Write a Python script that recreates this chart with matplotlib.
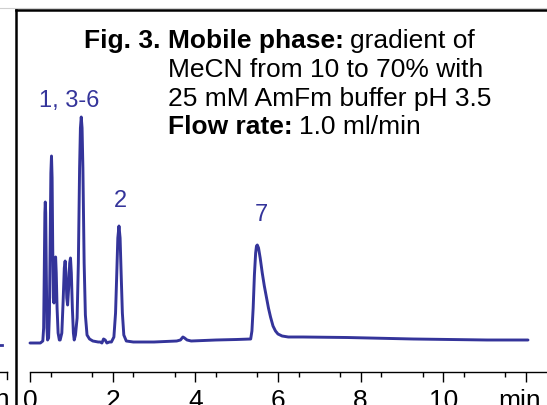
import matplotlib
matplotlib.use("Agg")
import matplotlib.pyplot as plt
import matplotlib.transforms as mtransforms
from matplotlib.lines import Line2D

plt.rcParams['font.family'] = ['Liberation Sans', 'DejaVu Sans']

# ---- data ----
time_min = [0.00, 0.25, 0.31, 0.33, 0.345, 0.36, 0.37, 0.38, 0.395, 0.41, 0.425,
            0.45, 0.47, 0.49, 0.505, 0.52, 0.535, 0.55, 0.565, 0.58,
            0.595, 0.61, 0.62, 0.635, 0.655, 0.68, 0.71, 0.73,
            0.77, 0.80, 0.83, 0.85, 0.87, 0.89, 0.91,
            0.935, 0.96, 0.98, 1.00, 1.025, 1.05, 1.07,
            1.10, 1.14, 1.17, 1.20, 1.22, 1.24, 1.26, 1.28, 1.31, 1.34, 1.38, 1.44, 1.52,
            1.65, 1.70, 1.74, 1.78, 1.82, 1.86, 1.92,
            1.97, 2.03, 2.07, 2.10, 2.125, 2.153, 2.18, 2.205, 2.235, 2.27, 2.33, 2.50,
            3.00, 3.55, 3.64, 3.70, 3.74, 3.80, 3.90,
            4.50, 5.00, 5.34, 5.37, 5.40, 5.43, 5.46, 5.48, 5.50, 5.53, 5.57, 5.62,
            5.67, 5.72, 5.77, 5.82, 5.88, 5.94, 6.00, 6.10, 6.25,
            6.60, 7.67, 9.27, 11.06, 12.05]
signal = [0, 0, 2, 15, 70, 130, 141, 130, 70, 15, 3,
          5, 30, 110, 170, 187, 165, 95, 45, 40,
          65, 84, 86, 70, 35, 10, 3, 3,
          10, 40, 75, 82, 70, 45, 38,
          55, 80, 85, 70, 35, 10, 3,
          8, 25, 80, 175, 215, 226, 215, 175, 80, 28, 8, 4, 2,
          1, 1, 0, 4, 3, 0, 1,
          1, 6, 30, 70, 105, 117, 105, 70, 30, 8, 2, 1,
          1, 2, 3, 6, 5, 3, 2,
          3, 3.5, 4, 12, 35, 68, 90, 97, 98, 95, 85, 70,
          57, 46, 35, 26, 17, 12, 9, 7, 6,
          6, 5.5, 4, 3, 3]

peak_labels = ["1, 3-6", "2", "7"]
peak_label_t = [0.95, 2.2, 5.6]
peak_label_y = [236, 136, 122]

tick_vals = [0, 2, 4, 6, 8, 10, 12]
tick_labels = ["0", "2", "4", "6", "8", "10", "min"]

caption_lines = [
    ("Mobile phase:", "gradient of"),
    ("", "MeCN from 10 to 70% with"),
    ("", "25 mM AmFm buffer pH 3.5"),
    ("Flow rate:", "1.0 ml/min"),
]
fig_label = "Fig. 3."

W, H = 547, 405
BLUE = '#34349a'
FS = 19

fig = plt.figure(figsize=(W / 100, H / 100), dpi=100)

# main axes (pixel layout: x-axis at y=372, t=0 at x=30)
ax = fig.add_axes([30 / W, (H - 372) / H, (W - 30) / W, (372 - 10) / H])
ax.plot(time_min, signal, color=BLUE, lw=2.1, solid_joinstyle='round',
        solid_capstyle='round', clip_on=False)
ax.set_xlim(0, 12.51)
ax.set_ylim(-29, 333)
for s in ['top', 'right', 'left']:
    ax.spines[s].set_visible(False)
ax.spines['bottom'].set_linewidth(1.0)
ax.set_yticks([])
ax.set_xticks(tick_vals)
ax.set_xticklabels(tick_labels)
ax.set_xticks([v + 0.5 for v in range(0, 12)], minor=True)
ax.tick_params(axis='x', which='major', direction='out', length=7.5, width=1.0,
               pad=5, labelsize=FS)
ax.tick_params(axis='x', which='minor', direction='out', length=3.8, width=1.0)
ax.patch.set_visible(False)
# shift the "min" label slightly to the left as in the reference
lab = ax.get_xticklabels()[-1]
lab.set_transform(lab.get_transform() +
                  mtransforms.ScaledTranslation(-6 / 100, 0, fig.dpi_scale_trans))

# peak labels
for lab_txt, t, y in zip(peak_labels, peak_label_t, peak_label_y):
    ax.text(t, y, lab_txt, color=BLUE, fontsize=17, ha='center', va='baseline')

# overlay axes in pixel coordinates for frame & captions
ov = fig.add_axes([0, 0, 1, 1])
ov.set_xlim(0, W)
ov.set_ylim(H, 0)
ov.axis('off')
ov.patch.set_visible(False)

ov.add_line(Line2D([0, W], [7.5, 7.5], color='#cfcfcf', lw=0.8))
ov.add_line(Line2D([15.5, W], [10, 10], color='black', lw=1.8))
ov.add_line(Line2D([15.5, 15.5], [10, H], color='black', lw=1.8))
# remnants of the neighbouring panel
ov.add_line(Line2D([0, 7], [372, 372], color='black', lw=1.0))
ov.add_line(Line2D([6.5, 6.5], [372, 379], color='black', lw=1.0))
ov.add_line(Line2D([0, 2], [345, 345], color=BLUE, lw=2.0))
ov.text(10, 388, "min", fontsize=FS, ha='right', va='top')

# caption
fig.canvas.draw()
r = fig.canvas.get_renderer()
base_y = [48, 77, 106, 134]
ov.text(84, base_y[0], fig_label, fontsize=FS, fontweight='bold', ha='left', va='baseline')
x0 = 168
for (b, n), y in zip(caption_lines, base_y):
    x = x0
    if b:
        tb = ov.text(x, y, b, fontsize=FS, fontweight='bold', ha='left', va='baseline')
        bb = tb.get_window_extent(renderer=r)
        x = x + bb.width + 6
    ov.text(x, y, n, fontsize=FS, ha='left', va='baseline')

fig.savefig('out.png', dpi=100)
